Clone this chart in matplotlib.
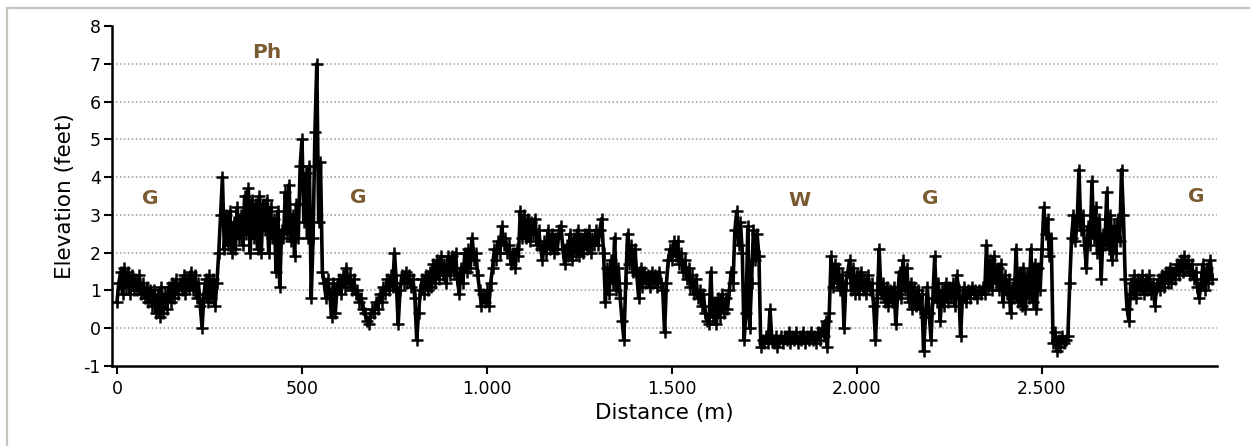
import numpy as np
import matplotlib
matplotlib.use("Agg")
import matplotlib.pyplot as plt
from matplotlib.lines import Line2D
from matplotlib.ticker import FuncFormatter

plt.rcParams['font.family'] = ['DejaVu Sans']
plt.rcParams['axes.unicode_minus'] = False

# ---- data ----
step_m = 5
elevation_ft = [
    # 0-95
    0.7, 1.2, 1.5, 0.9, 1.6, 1.1, 1.5, 0.9, 1.4, 1.0, 1.3, 1.0, 1.4, 0.9, 1.2, 0.8, 1.1, 0.7, 1.0, 0.6,
    # 100-195
    1.0, 0.4, 0.9, 0.3, 1.1, 0.4, 0.9, 0.5, 1.1, 0.7, 1.2, 0.8, 1.3, 0.9, 1.2, 1.0, 1.4, 0.9, 1.3, 1.1,
    # 200-295
    1.5, 1.0, 1.4, 0.8, 1.2, 0.6, 0.0, 0.9, 1.3, 0.7, 1.4, 0.8, 1.3, 0.6, 1.2, 2.0, 3.0, 4.0, 2.1, 3.0,
    # 300-395
    2.2, 3.1, 2.0, 2.8, 2.1, 3.2, 2.4, 3.0, 2.2, 3.5, 2.5, 3.7, 2.0, 3.4, 2.4, 3.3, 2.1, 3.5, 2.0, 3.3,
    # 400-495
    2.6, 3.4, 2.0, 3.2, 2.4, 2.9, 1.5, 3.1, 1.1, 2.6, 2.4, 3.6, 2.5, 3.8, 2.3, 3.0, 1.9, 3.3, 2.4, 4.3,
    # 500-595
    5.0, 2.8, 4.1, 2.4, 4.3, 0.8, 2.4, 5.2, 7.0, 2.8, 4.4, 1.5, 1.2, 0.8, 1.3, 0.9, 0.3, 1.2, 0.4, 1.1,
    # 600-695
    1.3, 0.9, 1.4, 1.1, 1.6, 1.2, 1.4, 1.0, 1.3, 0.9, 1.0, 0.7, 0.8, 0.5, 0.4, 0.2, 0.1, 0.3, 0.5, 0.4,
    # 700-795
    0.7, 0.5, 0.9, 0.7, 1.1, 0.9, 1.3, 1.0, 1.4, 1.1, 2.0, 1.2, 0.1, 1.0, 1.4, 1.2, 1.5, 1.2, 1.4, 1.1,
    # 800-895
    1.3, 0.8, -0.3, 0.4, 1.0, 1.3, 0.9, 1.4, 1.0, 1.5, 1.1, 1.7, 1.2, 1.8, 1.3, 1.9, 1.4, 1.7, 1.2, 1.9,
    # 900-995
    1.4, 1.9, 1.5, 2.0, 1.3, 0.9, 1.6, 1.2, 2.0, 1.5, 2.1, 1.6, 2.4, 1.8, 2.0, 1.4, 1.0, 0.6, 0.9, 0.7,
    # 1000-1095
    1.0, 0.6, 1.2, 1.6, 2.1, 1.8, 2.3, 2.0, 2.7, 2.2, 2.4, 2.0, 2.2, 1.7, 2.0, 1.6, 2.1, 1.9, 3.1, 2.4,
    # 1100-1195
    3.0, 2.4, 2.9, 2.3, 2.8, 2.5, 2.9, 2.2, 2.6, 2.1, 1.8, 2.3, 2.0, 2.6, 2.1, 2.5, 2.0, 2.4, 2.1, 2.6,
    # 1200-1295
    2.7, 2.1, 1.7, 2.2, 1.9, 2.5, 1.8, 2.4, 2.0, 2.6, 1.9, 2.4, 2.0, 2.5, 2.1, 2.6, 2.0, 2.4, 2.2, 2.6,
    # 1300-1395
    2.2, 2.6, 2.9, 2.0, 0.7, 1.6, 0.9, 1.8, 1.2, 2.4, 1.0, 1.6, 0.8, 0.2, -0.3, 1.2, 2.5, 1.7, 2.2, 1.5,
    # 1400-1495
    2.1, 1.4, 0.8, 1.6, 1.1, 1.5, 1.2, 1.4, 1.1, 1.5, 1.2, 1.4, 1.1, 1.5, 1.2, 1.0, -0.1, 1.2, 1.8, 2.1,
    # 1500-1595
    1.8, 2.3, 1.9, 2.3, 1.7, 2.0, 1.5, 1.8, 1.3, 1.6, 1.1, 1.4, 0.9, 1.3, 0.8, 1.0, 0.6, 0.9, 0.4, 0.2,
    # 1600-1695
    0.1, 1.5, 0.3, 0.7, 0.1, 0.8, 0.3, 0.9, 0.4, 0.8, 0.5, 1.0, 1.5, 1.2, 2.6, 3.1, 2.2, 2.8, 2.0, -0.3,
    # 1700-1795
    0.4, 2.7, 0.0, 1.2, 2.6, 1.8, 2.5, 1.9, -0.5, -0.3, -0.4, -0.2, -0.4, 0.5, -0.3, -0.4, -0.2, -0.5, -0.3, -0.2,
    # 1800-1895
    -0.4, -0.2, -0.3, -0.1, -0.4, -0.2, -0.3, -0.1, -0.4, -0.2, -0.3, -0.1, -0.4, -0.2, -0.3, -0.1, -0.3, -0.2, -0.4, -0.1,
    # 1900-1995
    -0.3, 0.0, -0.2, 0.2, -0.5, 0.4, 1.9, 1.1, 1.7, 1.2, 1.6, 1.0, 1.4, 0.0, 1.2, 1.5, 1.8, 1.0, 1.6, 0.9,
    # 2000-2095
    1.4, 0.9, 1.5, 1.0, 1.3, 0.9, 1.4, 1.0, 1.2, 0.6, -0.3, 0.8, 2.1, 0.9, 1.2, 0.7, 1.1, 0.6, 1.0, 0.7,
    # 2100-2195
    1.1, 0.1, 0.9, 1.5, 0.8, 1.8, 1.0, 1.6, 0.7, 1.2, 0.5, 1.1, 0.6, 1.0, 0.5, 0.9, -0.6, 0.3, 1.1, 0.4,
    # 2200-2295
    -0.3, 0.8, 1.9, 0.7, 1.2, 0.2, 1.0, 0.6, 1.2, 0.7, 1.1, 0.8, 1.2, 0.6, 1.4, 1.0, -0.2, 0.8, 1.1, 0.7,
    # 2300-2395
    1.0, 0.8, 1.1, 0.9, 1.0, 0.8, 1.0, 0.9, 1.1, 0.9, 2.2, 1.1, 1.8, 1.0, 1.9, 1.2, 1.6, 1.0, 1.7, 0.7,
    # 2400-2495
    1.4, 0.9, 1.3, 0.4, 1.1, 0.8, 2.1, 0.7, 1.5, 0.6, 1.6, 0.5, 1.4, 0.8, 2.1, 0.7, 1.7, 0.5, 1.6, 1.0,
    # 2500-2595
    2.1, 3.2, 2.5, 2.9, 1.9, 2.4, -0.4, -0.1, -0.6, -0.3, -0.5, -0.2, -0.4, -0.3, -0.2, 1.2, 2.4, 3.0, 2.3, 2.8,
    # 2600-2695
    4.2, 2.6, 3.0, 2.2, 1.6, 2.7, 2.2, 3.9, 2.4, 3.2, 2.0, 2.9, 1.3, 2.5, 2.2, 3.6, 2.1, 3.0, 1.8, 2.7,
    # 2700-2795
    2.0, 2.9, 2.3, 4.2, 3.0, 1.3, 0.5, 0.2, 1.2, 0.9, 1.4, 0.8, 1.3, 1.0, 1.4, 0.9, 1.3, 1.0, 1.4, 0.9,
    # 2800-2895
    1.2, 0.6, 1.1, 1.3, 1.0, 1.4, 1.1, 1.5, 1.2, 1.6, 1.2, 1.5, 1.3, 1.7, 1.4, 1.8, 1.5, 1.9, 1.6, 1.8,
    # 2900-2960
    1.4, 1.7, 1.3, 1.5, 1.1, 0.8, 1.2, 1.7, 1.0, 1.6, 1.2, 1.8, 1.3,
]
distance_m = np.arange(len(elevation_ft)) * step_m

zone_labels = ["G", "Ph", "G", "W", "G", "G"]
zone_x = [89, 405, 651, 1846, 2197, 2916]
zone_y = [3.44, 7.3, 3.47, 3.39, 3.44, 3.49]

x_ticks = [0, 500, 1000, 1500, 2000, 2500]
y_ticks = [-1, 0, 1, 2, 3, 4, 5, 6, 7, 8]

# ---- figure ----
W, H = 1250, 446
fig = plt.figure(figsize=(W / 100, H / 100), dpi=100)
fig.patch.set_facecolor("white")

ax = fig.add_axes([112 / W, 1 - 366 / H, (1217 - 112) / W, (366 - 26) / H])
ax.set_xlim(-13.5, 2973)
ax.set_ylim(-1, 8)

for yv in y_ticks[1:-1]:
    ax.axhline(yv, color="#9a9a9a", lw=1.1, ls=(0, (1, 1.6)), zorder=1)

ax.plot(distance_m, elevation_ft, color="black", lw=2.6, marker="+",
        ms=9, mew=1.8, zorder=3)

for lab, xx, yy in zip(zone_labels, zone_x, zone_y):
    ax.text(xx, yy, lab, ha="center", va="center", color="#7a5a30",
            fontsize=14.5, fontweight="bold", zorder=4)

ax.set_xticks(x_ticks)
ax.set_yticks(y_ticks)
ax.xaxis.set_major_formatter(FuncFormatter(lambda v, p: f"{int(v):,}".replace(",", ".")))
ax.tick_params(axis="both", labelsize=12.5, length=6, width=1.5, color="black",
               direction="out")
ax.tick_params(axis="y", pad=2)
ax.tick_params(axis="x", pad=4)

for s in ["top", "right"]:
    ax.spines[s].set_visible(False)
for s in ["left", "bottom"]:
    ax.spines[s].set_linewidth(1.8)
    ax.spines[s].set_color("black")

ax.set_xlabel("Distance (m)", fontsize=15.5, labelpad=4)
ax.set_ylabel("Elevation (feet)", fontsize=15.5, labelpad=6)

# outer panel border (top & left visible)
bcol = "#c4c4bc"
fig.add_artist(Line2D([7 / W, 1.0], [1 - 8 / H, 1 - 8 / H], color=bcol, lw=1.6,
                      transform=fig.transFigure))
fig.add_artist(Line2D([7 / W, 7 / W], [0, 1 - 8 / H], color=bcol, lw=1.6,
                      transform=fig.transFigure))

fig.savefig("out.png", dpi=100)
